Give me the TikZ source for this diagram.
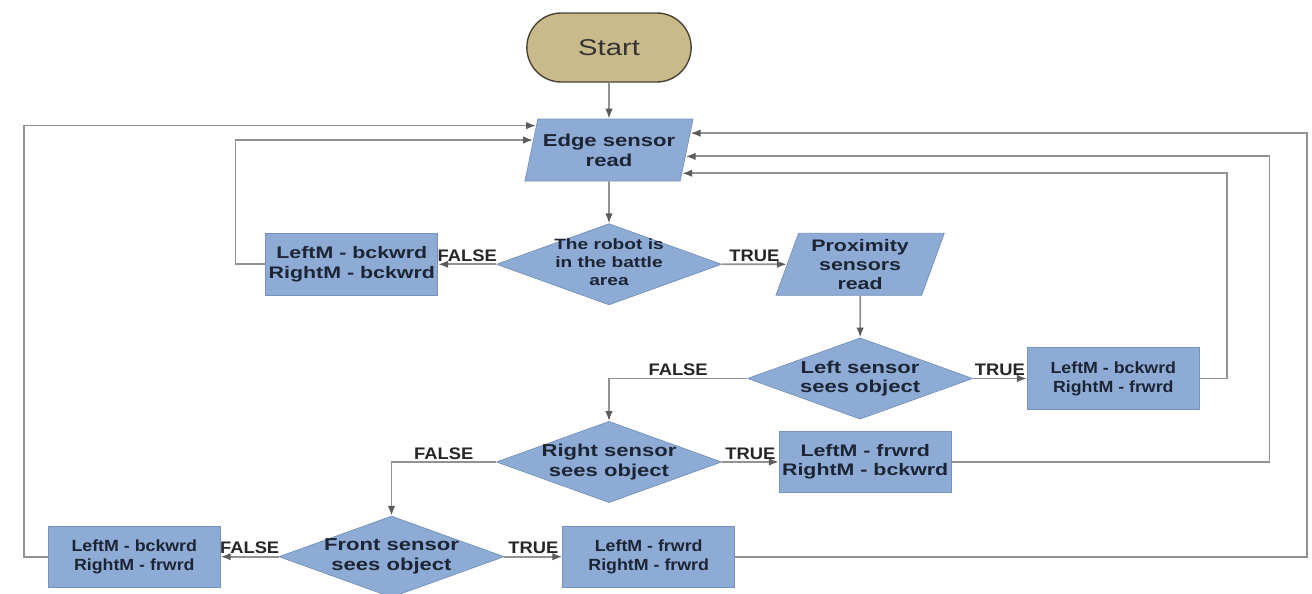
\documentclass[tikz,border=0pt]{standalone}
\usepackage{fontspec}
\usepackage{xcolor}
\usepackage{tikz}
\usetikzlibrary{
  arrows.meta,
  positioning,
  shapes.geometric,
  shapes.misc,
  calc
}
\setmainfont{Liberation Sans}
\newfontfamily\wideface{Liberation Sans}[FakeStretch=1.28]
\newfontfamily\narrowface{Liberation Sans}[FakeStretch=1.1]
\definecolor{StepBlue}{HTML}{8DABD4}
\definecolor{StepEdge}{HTML}{7692BA}
\definecolor{StartTan}{HTML}{C9BA8B}
\definecolor{StartEdge}{HTML}{4B4336}
\definecolor{WireGray}{HTML}{929292}
\definecolor{TipGray}{HTML}{5C5C5C}
\definecolor{InkNavy}{HTML}{1D2535}
\tikzset{
  terminal/.style={
    rounded rectangle,
    draw=StartEdge,
    fill=StartTan,
    line width=0.8pt,
    minimum width=3.52cm,
    minimum height=1.38cm,
    text=black!80,
    font=\wideface\fontsize{13}{15}\selectfont
  },
  inout/.style={
    trapezium,
    trapezium left angle=71,
    trapezium right angle=109,
    trapezium stretches=true,
    draw=StepEdge,
    fill=StepBlue,
    inner sep=1pt,
    minimum width=3.38cm,
    minimum height=1.24cm,
    align=center,
    text=InkNavy,
    font=\wideface\bfseries\fontsize{9.8}{11.2}\selectfont
  },
  process/.style={
    rectangle,
    draw=StepEdge,
    fill=StepBlue,
    inner sep=1pt,
    minimum width=3.44cm,
    minimum height=1.23cm,
    align=center,
    text=InkNavy,
    font=\wideface\bfseries\fontsize{9.5}{11}\selectfont
  },
  slimprocess/.style={
    process,
    font=\narrowface\bfseries\fontsize{9.2}{10.8}\selectfont
  },
  decision/.style={
    rectangle,
    inner sep=0pt,
    minimum width=4.5cm,
    minimum height=1.62cm,
    align=center,
    text=InkNavy,
    font=\wideface\bfseries\fontsize{9.8}{11.2}\selectfont,
    path picture={
      \draw[fill=StepBlue, draw=StepEdge]
      (path picture bounding box.north) --
      (path picture bounding box.east) --
      (path picture bounding box.south) --
      (path picture bounding box.west) -- cycle;
    }
  },
  flow/.style={
    draw=WireGray,
    line width=1pt,
    -{Latex[length=2mm, width=1.5mm, color=TipGray]}
  },
  answer/.style={
    above,
    inner sep=1pt,
    text=black!85,
    font=\narrowface\bfseries\fontsize{9.5}{11}\selectfont
  }
}

\begin{document}
\begin{tikzpicture}

  \useasboundingbox (0,0) rectangle (26.24,-11.86);

  \node[terminal] (start) at (12.18,-0.95) {Start};

  \node[
    inout,
    below=0.72cm of start
  ] (edge) {
    Edge sensor\\
    read
  };

  \node[
    decision,
    below=0.84cm of edge,
    font=\wideface\bfseries\fontsize{8.5}{10.2}\selectfont
  ] (robot) {
    \\[-6pt]
    The robot is\\
    in the battle\\
    area
  };

  \node[
    process,
    left=1.16cm of robot
  ] (back) {
    LeftM - bckwrd\\
    RightM - bckwrd
  };

  \node[
    inout,
    right=1.3cm of robot,
    font=\wideface\bfseries\fontsize{9.5}{10.8}\selectfont
  ] (prox) {
    Proximity\\
    sensors\\
    read
  };

  \node[
    decision,
    below=0.84cm of prox
  ] (leftd) {
    Left sensor\\
    sees object
  };

  \node[
    slimprocess,
    right=1.08cm of leftd
  ] (lefttrue) {
    LeftM - bckwrd\\
    RightM - frwrd
  };

  \node[
    decision,
    below=2.32cm of robot
  ] (rightd) {
    Right sensor\\
    sees object
  };

  \node[
    process,
    right=1.14cm of rightd
  ] (righttrue) {
    LeftM - frwrd\\
    RightM - bckwrd
  };

  \node[
    decision,
    below=0.26cm of rightd,
    xshift=-4.35cm
  ] (frontd) {
    Front sensor\\
    sees object
  };

  \node[
    slimprocess,
    left=1.16cm of frontd
  ] (frontfalse) {
    LeftM - bckwrd\\
    RightM - frwrd
  };

  \node[
    slimprocess,
    right=1.16cm of frontd
  ] (fronttrue) {
    LeftM - frwrd\\
    RightM - frwrd
  };

  \coordinate (inA) at ($(edge.top left corner)!0.11!(edge.bottom left corner)$);
  \coordinate (inB) at ($(edge.top left corner)!0.34!(edge.bottom left corner)$);
  \coordinate (inC) at ($(edge.top right corner)!0.23!(edge.bottom right corner)$);
  \coordinate (inD) at ($(edge.top right corner)!0.60!(edge.bottom right corner)$);
  \coordinate (inE) at ($(edge.top right corner)!0.87!(edge.bottom right corner)$);

  \draw[flow] (start) -- (edge);
  \draw[flow] (edge) -- (robot);

  \draw[flow]
  (robot.west) --
  node[answer] {FALSE}
  (back.east);

  \draw[flow]
  (back.west) -- ++(-0.6,0) |- (inB);

  \draw[flow]
  (robot.east) --
  node[answer] {TRUE}
  (prox);

  \draw[flow] (prox) -- (leftd);

  \draw[flow]
  (leftd.west) -|
  node[answer, pos=0.25] {FALSE}
  (rightd.north);

  \draw[flow]
  (leftd.east) --
  node[answer] {TRUE}
  (lefttrue.west);

  \draw[flow]
  (lefttrue.east) -- ++(0.54,0) |- (inE);

  \draw[flow]
  (rightd.west) -|
  node[answer, pos=0.25] {FALSE}
  (frontd.north);

  \draw[flow]
  (rightd.east) --
  node[answer] {TRUE}
  (righttrue.west);

  \draw[flow]
  (righttrue.east) -- ++(6.36,0) |- (inD);

  \draw[flow]
  (frontd.west) --
  node[answer] {FALSE}
  (frontfalse.east);

  \draw[flow]
  (frontfalse.west) -- ++(-0.48,0) |- (inA);

  \draw[flow]
  (frontd.east) --
  node[answer] {TRUE}
  (fronttrue.west);

  \draw[flow]
  (fronttrue.east) -- ++(11.44,0) |- (inC);

\end{tikzpicture}
\end{document}
